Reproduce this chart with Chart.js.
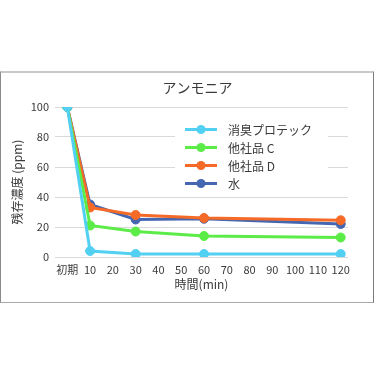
<!DOCTYPE html>
<html>
<head>
<meta charset="utf-8">
<script src="https://cdn.jsdelivr.net/npm/chart.js@4/dist/chart.umd.min.js"></script>
<style>
  html, body { margin: 0; padding: 0; background: #fff; }
  body { width: 374px; height: 374px; position: relative; overflow: hidden; }
  #frame {
    position: absolute; left: 0; top: 71px;
    width: 372px; height: 229px;
    border-top: 2px solid #c6caca;
    border-left: 1px solid #8a8a8a;
    border-right: 1px solid #7a7a7a;
    border-bottom: 1px solid #a8a8a8;
  }
  canvas { display: block; }
</style>
</head>
<body>
<div id="frame"><canvas id="c" width="372" height="229"></canvas></div>
<script>
// ---- data ----
const chartTitle = 'アンモニア';
const xTitle = '時間(min)';
const yTitle = '残存濃度 (ppm)';
const times = [0, 10, 30, 60, 120];
const initialLabel = '初期';
const seriesNames = ['消臭プロテック', '他社品 C', '他社品 D', '水'];
const protec = [100, 4, 2, 2, 2];
const otherC = [100, 21, 17, 14, 13];
const otherD = [100, 33, 28, 26, 24.5];
const water = [100, 35, 25, 25.5, 22];
const seriesColors = ['#52d0f2', '#5cec48', '#f46a26', '#4566b0'];

const seriesValues = [protec, otherC, otherD, water];
const FONT = '"Noto Sans CJK JP", "Noto Sans", sans-serif';
const TEXT = '#3a3a3a';

const datasets = seriesValues.map((vals, i) => ({
  label: seriesNames[i],
  data: vals.map((v, j) => ({ x: times[j], y: v })),
  borderColor: seriesColors[i],
  backgroundColor: seriesColors[i],
  borderWidth: 3,
  pointRadius: 4.5,
  pointBorderWidth: 1,
  pointBorderColor: seriesColors[i],
  pointBackgroundColor: seriesColors[i],
  tension: 0
}));

const insideLegend = {
  id: 'insideLegend',
  beforeDatasetsDraw(chart) {
    const ctx = chart.ctx;
    const ca = chart.chartArea;
    const bx = ca.left + 120, by = ca.top + 8, bw = 153, bh = 78;
    ctx.save();
    ctx.fillStyle = '#ffffff';
    ctx.fillRect(bx, by, bw, bh);
    ctx.font = '12px ' + FONT;
    ctx.textBaseline = 'middle';
    ctx.textAlign = 'left';
    chart.data.datasets.forEach((ds, i) => {
      const y = by + 14.5 + i * 18;
      const x0 = bx + 10, x1 = bx + 42;
      ctx.strokeStyle = ds.borderColor;
      ctx.lineWidth = 3;
      ctx.beginPath(); ctx.moveTo(x0, y); ctx.lineTo(x1, y); ctx.stroke();
      ctx.fillStyle = ds.borderColor;
      ctx.beginPath(); ctx.arc((x0 + x1) / 2, y, 4.5, 0, Math.PI * 2); ctx.fill();
      ctx.fillStyle = TEXT;
      ctx.fillText(ds.label, bx + 53, y + 0.5);
    });
    ctx.restore();
  },
  afterDraw(chart) {
    const ctx = chart.ctx;
    const ca = chart.chartArea;
    ctx.save();
    ctx.font = '14px ' + FONT;
    ctx.fillStyle = TEXT;
    ctx.textAlign = 'center';
    ctx.textBaseline = 'middle';
    ctx.fillText(chartTitle, (ca.left + ca.right) / 2 - 4, ca.top - 19);
    ctx.restore();
  }
};

new Chart(document.getElementById('c'), {
  type: 'line',
  data: { datasets },
  options: {
    responsive: false,
    animation: false,
    layout: { padding: { left: 0, right: 25, top: 34, bottom: 0 } },
    plugins: {
      legend: { display: false },
      tooltip: { enabled: false },
      title: { display: false }
    },
    scales: {
      x: {
        type: 'linear', min: -5.4, max: 123.2,
        afterFit(s) { s.height = 45; },
        grid: { display: false, drawTicks: false },
        border: { display: false },
        ticks: {
          stepSize: 10, includeBounds: false, padding: 6, color: TEXT,
          maxRotation: 0, autoSkip: false,
          font: { family: FONT, size: 11 },
          callback: (v) => v === 0 ? initialLabel : String(v)
        },
        title: {
          display: true, text: xTitle, color: TEXT,
          font: { family: FONT, size: 12 },
          padding: { top: 0, bottom: 10 }
        }
      },
      y: {
        min: 0, max: 100,
        afterFit(s) { s.width = 54; },
        grid: { color: '#d9d9d9', lineWidth: 1, drawTicks: false },
        border: { display: false },
        ticks: {
          stepSize: 20, padding: 6, color: TEXT,
          font: { family: FONT, size: 11 }
        },
        title: {
          display: true, text: yTitle, color: TEXT,
          font: { family: FONT, size: 12 },
          padding: { top: 9, bottom: 0 }
        }
      }
    }
  },
  plugins: [insideLegend]
});
</script>
</body>
</html>
